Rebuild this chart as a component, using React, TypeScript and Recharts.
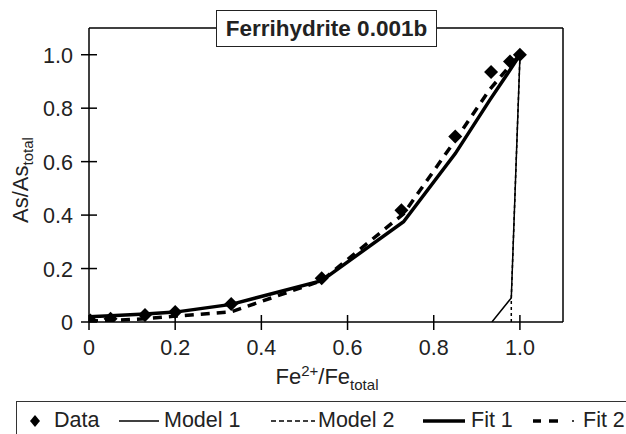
import React from 'react';
import { ComposedChart, Line, Scatter, XAxis, YAxis, ReferenceLine } from 'recharts';

const dataX = [0.003, 0.05, 0.13, 0.2, 0.33, 0.54, 0.725, 0.85, 0.933, 0.977, 1.0];
const dataY = [0.006, 0.012, 0.026, 0.037, 0.067, 0.164, 0.418, 0.694, 0.935, 0.975, 1.0];

const fit1X = [0, 0.05, 0.13, 0.2, 0.33, 0.54, 0.73, 0.85, 0.93, 0.98, 1.0];
const fit1Y = [0.02, 0.023, 0.03, 0.037, 0.066, 0.155, 0.375, 0.63, 0.83, 0.95, 1.0];

const fit2X = [0, 0.05, 0.13, 0.2, 0.33, 0.54, 0.73, 0.85, 0.93, 0.98, 1.0];
const fit2Y = [0.003, 0.006, 0.012, 0.022, 0.038, 0.155, 0.405, 0.68, 0.87, 0.965, 1.0];

const model1X = [0.935, 0.98, 1.0];
const model1Y = [0, 0.09, 0.99];

const model2X = [0.98, 0.98, 1.0];
const model2Y = [0, 0.09, 0.99];

const xTicks = [0, 0.2, 0.4, 0.6, 0.8, 1.0];
const yTicks = [0, 0.2, 0.4, 0.6, 0.8, 1.0];

const legendItems = ['Data', 'Model 1', 'Model 2', 'Fit 1', 'Fit 2'];
const title = 'Ferrihydrite 0.001b';

const FONT = '"Liberation Sans", Arial, sans-serif';

const pts = (xs: number[], ys: number[]) => xs.map((x, i) => ({ x, y: ys[i] }));

const fmt = (v: number) => (v === 0 ? '0' : v.toFixed(1));

const XTick = (p: any) => (
  <g>
    <line x1={p.x} x2={p.x} y1={p.y - 7} y2={p.y + 8} stroke="#000" strokeWidth={1.5} />
    <text x={p.x} y={p.y + 33} textAnchor="middle" fontSize={21.5} fill="#222" fontFamily={FONT}>
      {fmt(p.payload.value)}
    </text>
  </g>
);

const YTick = (p: any) => (
  <g>
    <line x1={p.x - 8} x2={p.x + 8} y1={p.y} y2={p.y} stroke="#000" strokeWidth={1.5} />
    <text x={p.x - 16} y={p.y + 8} textAnchor="end" fontSize={21.5} fill="#222" fontFamily={FONT}>
      {fmt(p.payload.value)}
    </text>
  </g>
);

const Diamond = (p: any) => {
  const { cx, cy } = p;
  const r = 7;
  return <polygon points={`${cx},${cy - r} ${cx + r},${cy} ${cx},${cy + r} ${cx - r},${cy}`} fill="#000" />;
};

// legend symbol + text left edges
const legendSym = [
  (<svg width={12} height={14}><polygon points="6,1 11,7 6,13 1,7" fill="#000" /></svg>),
  (<svg width={40} height={14}><line x1={0} x2={40} y1={7} y2={7} stroke="#000" strokeWidth={1.5} /></svg>),
  (<svg width={44} height={14}><line x1={0} x2={44} y1={7} y2={7} stroke="#000" strokeWidth={1.3} strokeDasharray="5 3" /></svg>),
  (<svg width={42} height={14}><line x1={0} x2={42} y1={7} y2={7} stroke="#000" strokeWidth={3.5} /></svg>),
  (<svg width={44} height={14}>
    <line x1={0} x2={8} y1={7} y2={7} stroke="#000" strokeWidth={3.5} />
    <line x1={16} x2={25} y1={7} y2={7} stroke="#000" strokeWidth={3.5} />
    <line x1={39} x2={41} y1={7} y2={7} stroke="#000" strokeWidth={1.5} />
  </svg>),
];
const symLeft = [28, 118, 270, 422, 532];
const textLeft = [53, 163, 317, 470, 582];

const LegendBox = () => (
  <div
    style={{
      position: 'absolute', left: 16, top: 401, width: 640, height: 50,
      border: '1.5px solid #333', boxSizing: 'border-box', fontFamily: FONT, fontSize: 21.5, color: '#222',
    }}
  >
    {legendItems.map((name, i) => (
      <React.Fragment key={name}>
        <div style={{ position: 'absolute', left: symLeft[i] - 16, top: 12, lineHeight: 0 }}>{legendSym[i]}</div>
        <div style={{ position: 'absolute', left: textLeft[i] - 16, top: 6, whiteSpace: 'nowrap', lineHeight: '24px' }}>{name}</div>
      </React.Fragment>
    ))}
  </div>
);

export default function App() {
  return (
    <div style={{ position: 'absolute', left: 0, top: 0, width: 626, height: 434, overflow: 'hidden', background: '#fff' }}>
      <ComposedChart width={626} height={434} margin={{ top: 28, right: 63, left: 29, bottom: 82 }}>
        <XAxis
          type="number" dataKey="x" domain={[0, 1.1]} ticks={xTicks} allowDataOverflow
          tick={<XTick />} tickLine={false} tickSize={0} tickMargin={0} height={30}
          axisLine={{ stroke: '#000', strokeWidth: 1.5 }}
        />
        <YAxis
          type="number" dataKey="y" domain={[0, 1.1]} ticks={yTicks} allowDataOverflow
          tick={<YTick />} tickLine={false} tickSize={0} tickMargin={0} width={60}
          axisLine={{ stroke: '#000', strokeWidth: 1.5 }}
        />
        <ReferenceLine y={1.1} stroke="#000" strokeWidth={1.5} />
        <ReferenceLine x={1.1} stroke="#000" strokeWidth={1.5} />
        <Line data={pts(model1X, model1Y)} dataKey="y" stroke="#000" strokeWidth={1.5} dot={false} isAnimationActive={false} />
        <Line data={pts(model2X, model2Y)} dataKey="y" stroke="#000" strokeWidth={1.5} strokeDasharray="3 3" dot={false} isAnimationActive={false} />
        <Line data={pts(fit1X, fit1Y)} dataKey="y" stroke="#000" strokeWidth={3.5} dot={false} isAnimationActive={false} />
        <Line data={pts(fit2X, fit2Y)} dataKey="y" stroke="#000" strokeWidth={3.5} strokeDasharray="9 7" dot={false} isAnimationActive={false} />
        <Scatter data={pts(dataX, dataY)} dataKey="y" shape={<Diamond />} isAnimationActive={false} />
      </ComposedChart>
      <div
        style={{
          position: 'absolute', left: 216, top: 10, width: 221, height: 37, boxSizing: 'border-box',
          border: '1.5px solid #222', background: '#fff', fontFamily: FONT, fontWeight: 'bold', fontSize: 22.5,
          display: 'flex', alignItems: 'center', justifyContent: 'center', color: '#222',
        }}
      >
        {title}
      </div>
      <div style={{ position: 'absolute', left: 0, top: 160, width: 40, height: 40, fontFamily: FONT, fontSize: 22, color: '#222' }}>
        <div style={{ position: 'absolute', left: 22, top: 20, transform: 'translate(-50%, -50%) rotate(-90deg)', whiteSpace: 'nowrap' }}>
          As/As<sub style={{ fontSize: 15 }}>total</sub>
        </div>
      </div>
      <div style={{ position: 'absolute', left: 227, top: 362, width: 200, textAlign: 'center', fontFamily: FONT, fontSize: 22, color: '#222' }}>
        Fe<sup style={{ fontSize: 15 }}>2+</sup>/Fe<sub style={{ fontSize: 15 }}>total</sub>
      </div>
      <LegendBox />
    </div>
  );
}
